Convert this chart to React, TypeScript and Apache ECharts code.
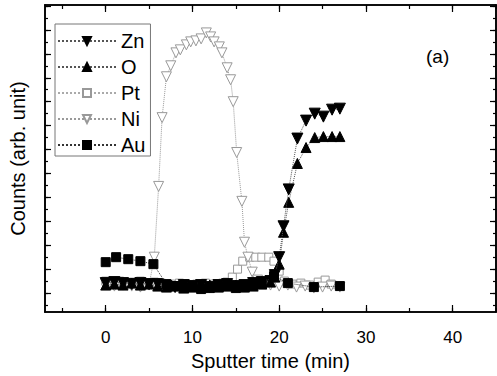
import React, { useEffect, useRef } from "react";
import * as echarts from "echarts";

// Heights are in "counts" units (arbitrary), x in minutes
const seriesNames = ["Zn", "O", "Pt", "Ni", "Au"];

const znX = [0, 1, 2, 3, 4, 5, 6, 7, 8, 9, 10, 11, 12, 13, 14, 15, 16, 17, 18, 19, 19.5, 20, 20.5, 21.1, 22.1, 23.1, 24.1, 25.1, 26.1, 27];
const znY = [34, 35, 34, 33, 34, 33, 33, 31, 30, 32, 31, 32, 30, 32, 33, 31, 32, 34, 35, 36, 42, 60, 91, 128, 179, 197, 204, 201, 208, 209];

const oX = [0, 1, 2, 3, 4, 5, 6, 7, 8, 9, 10, 11, 12, 13, 14, 15, 16, 17, 18, 19, 19.5, 20, 20.5, 21.1, 22.1, 23.1, 24.1, 25.1, 26.1, 27];
const oY = [32, 33, 32, 34, 32, 33, 31, 30, 31, 29, 30, 31, 32, 30, 31, 32, 30, 31, 33, 35, 40, 53, 85, 115, 154, 170, 180, 181, 181, 181];

const ptX = [0, 0.8, 1.6, 2.4, 3.2, 4, 4.8, 5.6, 6.4, 7.5, 8.5, 9.5, 10.5, 11.5, 12.5, 13.5, 14, 14.6, 15.2, 15.8, 16.6, 17.3, 18, 18.8, 19.4, 20, 20.6, 21.5, 22.5, 23.5, 24.5, 25.3, 26, 27];
const ptY = [36, 35, 36, 34, 35, 36, 34, 35, 34, 33, 34, 32, 33, 34, 33, 34, 35, 40, 48, 56, 60, 60, 60, 60, 56, 46, 36, 33, 34, 32, 35, 37, 33, 31];

const niX = [0, 1, 2, 3, 4, 5, 5.6, 6.1, 6.5, 7, 7.5, 8.1, 8.6, 9.3, 9.8, 10.4, 11, 11.6, 12.1, 12.5, 13.1, 13.4, 14, 14.4, 14.7, 15.1, 15.7, 16, 16.4, 16.9, 17.5, 18, 19, 20, 21, 22, 23, 24, 25, 26, 27];
const niY = [33, 31, 32, 31, 30, 32, 60, 131, 200, 241, 252, 265, 268, 273, 276, 277, 279, 285, 281, 276, 271, 265, 250, 238, 216, 165, 116, 75, 60, 45, 37, 34, 32, 31, 32, 30, 31, 29, 30, 31, 30];

const auX = [0, 1.2, 2.6, 4, 5.5, 7, 8, 9, 10, 11, 12, 13, 14, 15, 16, 17, 18, 19.4, 21, 24, 27];
const auY = [55, 60, 58, 56, 53, 33, 31, 29, 30, 28, 29, 30, 31, 29, 30, 32, 33, 41, 34, 30, 31];

const xMajorTicks = [0, 10, 20, 30, 40];
const xMinorTicks = [-5, 0, 5, 10, 15, 20, 25, 30, 35, 40, 45];
const yMajorTicks = [24, 48, 72, 96, 120, 144, 168, 192, 216, 240, 264, 288, 312];
const yMinorTicks = [12, 24, 36, 48, 60, 72, 84, 96, 108, 120, 132, 144, 156, 168, 180, 192, 204, 216, 228, 240, 252, 264, 276, 288, 300, 312];

const pairs = (xs: number[], ys: number[]) => xs.map((x, i) => [x, ys[i]]);

const X_MIN = -7;
const X_MAX = 45;
const Y_MIN = 5;
const Y_MAX = 313;

export default function App() {
  const ref = useRef<HTMLDivElement>(null);

  useEffect(() => {
    if (!ref.current) return;
    const chart = echarts.init(ref.current, undefined, { renderer: "svg" });
    const font = "'Liberation Sans', Arial, sans-serif";
    const axisLine = { show: true, onZero: false, lineStyle: { color: "#000", width: 1.6 } };

    const xAxisBase = (position: string, ticks: number[], tickLen: number, labels: boolean, name?: string) => ({
      type: "value",
      position,
      min: X_MIN,
      max: X_MAX,
      axisLine,
      axisTick: {
        show: true,
        inside: true,
        length: tickLen,
        customValues: ticks,
        lineStyle: { color: "#000", width: 1.2 },
      },
      axisLabel: labels
        ? {
            show: true,
            fontSize: 17,
            color: "#000",
            fontFamily: font,
            margin: 17,
            customValues: xMajorTicks,
          }
        : { show: false },
      splitLine: { show: false },
      name: name,
      nameLocation: "middle",
      nameGap: 36,
      nameTextStyle: { fontSize: 20, color: "#000", fontFamily: font },
    });

    const yAxisBase = (position: string, ticks: number[], tickLen: number, name?: string) => ({
      type: "value",
      position,
      min: Y_MIN,
      max: Y_MAX,
      axisLine,
      axisTick: {
        show: true,
        inside: true,
        length: tickLen,
        customValues: ticks,
        lineStyle: { color: "#000", width: 1.2 },
      },
      axisLabel: { show: false },
      splitLine: { show: false },
      name: name,
      nameLocation: "middle",
      nameGap: 17,
      nameRotate: 90,
      nameTextStyle: { fontSize: 20, color: "#000", fontFamily: font },
    });

    const lineSeries = (
      name: string,
      xs: number[],
      ys: number[],
      symbol: string,
      rotate: number,
      size: number,
      fill: string,
      border: string,
      lineColor: string,
      z: number
    ) => ({
      name,
      type: "line",
      data: pairs(xs, ys),
      symbol,
      symbolRotate: rotate,
      symbolSize: size,
      showAllSymbol: true,
      itemStyle: { color: fill, borderColor: border, borderWidth: 1 },
      lineStyle: { color: lineColor, width: 1, type: "dotted" },
      z,
    });

    chart.setOption({
      animation: false,
      backgroundColor: "#fff",
      grid: { left: 45, right: 1, top: 5, bottom: 64 },
      xAxis: [
        xAxisBase("bottom", xMajorTicks, 7, true, "Sputter time (min)"),
        xAxisBase("bottom", xMinorTicks, 4, false),
        xAxisBase("top", xMajorTicks, 7, false),
        xAxisBase("top", xMinorTicks, 4, false),
      ],
      yAxis: [
        yAxisBase("left", yMajorTicks, 6, "Counts (arb. unit)"),
        yAxisBase("left", yMinorTicks, 3),
        yAxisBase("right", yMajorTicks, 6),
        yAxisBase("right", yMinorTicks, 3),
      ],
      legend: {
        data: seriesNames,
        orient: "vertical",
        left: 55,
        top: 24,
        padding: [7, 5, 1, 2],
        itemGap: 6,
        itemWidth: 58,
        itemHeight: 10,
        borderColor: "#777",
        borderWidth: 1,
        backgroundColor: "#fff",
        textStyle: { fontSize: 20, lineHeight: 20, color: "#000", fontFamily: font },
      },
      series: [
        lineSeries("Pt", ptX, ptY, "rect", 0, 8, "#fff", "#999", "#aaa", 2),
        lineSeries("Ni", niX, niY, "triangle", 180, 10, "#fff", "#999", "#999", 3),
        lineSeries("Zn", znX, znY, "triangle", 180, 11, "#000", "#000", "#555", 5),
        lineSeries("O", oX, oY, "triangle", 0, 10, "#000", "#000", "#555", 4),
        lineSeries("Au", auX, auY, "rect", 0, 9, "#000", "#000", "#333", 6),
      ],
      graphic: [
        {
          type: "text",
          left: 426,
          top: 47,
          style: { text: "(a)", fontSize: 19, fill: "#000", fontFamily: font },
        },
      ],
    });

    return () => chart.dispose();
  }, []);

  return (
    <div
      ref={ref}
      style={{ position: "fixed", left: 0, top: 0, width: 497, height: 376, background: "#fff" }}
    />
  );
}
